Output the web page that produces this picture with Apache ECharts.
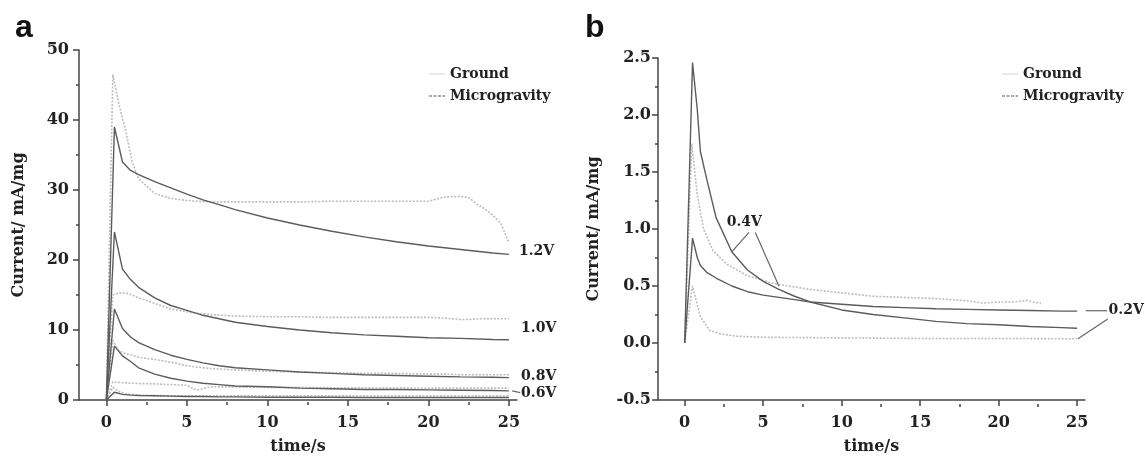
<!DOCTYPE html>
<html>
<head>
<meta charset="utf-8">
<script src="https://cdn.jsdelivr.net/npm/echarts@6/dist/echarts.min.js"></script>
<style>
  html, body { margin: 0; padding: 0; background: #fff; }
  #chart { width: 1145px; height: 460px; }
</style>
</head>
<body>
<div id="chart"></div>
<script>
// panel a: time axes (s) and currents (mA/mg)
const tMicroA = [0, 0.5, 1, 1.5, 2, 3, 4, 5, 6, 7, 8, 10, 12, 14, 16, 18, 20, 22, 24, 25];
const micro12 = [0, 39, 34, 32.8, 32.2, 31.2, 30.3, 29.4, 28.6, 27.9, 27.2, 26.0, 25.0, 24.1, 23.3, 22.6, 22.0, 21.5, 21.0, 20.8];
const micro10 = [0, 24, 18.7, 17.2, 16.1, 14.6, 13.5, 12.8, 12.1, 11.6, 11.1, 10.5, 10.0, 9.6, 9.3, 9.1, 8.9, 8.8, 8.65, 8.6];
const micro08 = [0, 13.0, 10.2, 9.0, 8.2, 7.2, 6.4, 5.8, 5.3, 4.9, 4.6, 4.3, 4.0, 3.8, 3.6, 3.5, 3.4, 3.3, 3.25, 3.2];
const micro06 = [0, 7.7, 6.3, 5.5, 4.6, 3.7, 3.1, 2.7, 2.4, 2.2, 2.0, 1.9, 1.7, 1.6, 1.5, 1.5, 1.45, 1.4, 1.35, 1.3];
const micro04 = [0, 1.1, 0.8, 0.7, 0.65, 0.6, 0.55, 0.5, 0.5, 0.45, 0.45, 0.4, 0.4, 0.4, 0.35, 0.35, 0.35, 0.35, 0.35, 0.35];

const tGroundA = [0, 0.4, 0.8, 1.2, 1.6, 2, 3, 4, 5, 5.6, 6.5, 8, 10, 12, 14, 16, 18, 20, 21, 22, 22.5, 23, 23.5, 24, 24.5, 25];
const ground12 = [0, 46.5, 42, 38.5, 34, 31.6, 29.5, 28.8, 28.5, 28.4, 28.3, 28.3, 28.3, 28.3, 28.4, 28.4, 28.4, 28.4, 29.0, 29.1, 28.9, 28.0, 27.3, 26.4, 25.2, 22.5];
const ground10 = [0, 15, 15.3, 15.3, 15.0, 14.6, 13.8, 13.0, 12.6, 12.4, 12.2, 12.0, 11.9, 11.9, 11.8, 11.8, 11.8, 11.8, 11.7, 11.5, 11.5, 11.6, 11.6, 11.6, 11.6, 11.6];
const ground08 = [0, 8.5, 7.0, 6.6, 6.4, 6.1, 5.8, 5.4, 4.9, 4.7, 4.5, 4.3, 4.1, 4.0, 3.9, 3.8, 3.8, 3.7, 3.7, 3.6, 3.6, 3.6, 3.6, 3.6, 3.6, 3.6];
const ground06 = [0, 2.6, 2.5, 2.45, 2.4, 2.35, 2.3, 2.2, 2.1, 1.4, 1.9, 1.85, 1.8, 1.8, 1.75, 1.75, 1.75, 1.7, 1.7, 1.7, 1.7, 1.7, 1.7, 1.7, 1.7, 1.7];
const ground04 = [0, 1.8, 1.2, 0.9, 0.8, 0.7, 0.65, 0.6, 0.6, 0.6, 0.6, 0.6, 0.6, 0.6, 0.6, 0.6, 0.6, 0.6, 0.6, 0.6, 0.6, 0.6, 0.6, 0.6, 0.6, 0.6];

// panel b
const tMicroB = [0, 0.5, 0.8, 1, 1.4, 2, 3, 4, 5, 6, 7, 8, 10, 12, 14, 16, 18, 20, 22, 24, 25];
const microB04 = [0, 2.46, 2.05, 1.68, 1.44, 1.1, 0.8, 0.64, 0.54, 0.47, 0.41, 0.36, 0.29, 0.25, 0.22, 0.19, 0.17, 0.16, 0.145, 0.135, 0.13];
const microB02 = [0, 0.92, 0.75, 0.68, 0.62, 0.57, 0.5, 0.45, 0.42, 0.4, 0.38, 0.36, 0.34, 0.32, 0.31, 0.3, 0.295, 0.29, 0.285, 0.28, 0.28];
const tGroundB04 = [0, 0.45, 0.8, 1.2, 1.8, 2.7, 4, 5.7, 8, 10, 12, 14, 16, 18, 19, 20, 21, 21.8, 22.2, 22.7];
const groundB04 = [0, 1.75, 1.3, 1.0, 0.81, 0.69, 0.59, 0.52, 0.47, 0.44, 0.41, 0.4, 0.39, 0.37, 0.35, 0.36, 0.36, 0.375, 0.36, 0.35];
const tGroundB02 = [0, 0.5, 1, 1.6, 2.3, 3.3, 5, 10, 15, 20, 25];
const groundB02 = [0, 0.5, 0.23, 0.11, 0.08, 0.06, 0.05, 0.045, 0.04, 0.04, 0.037];

const majorX = [0, 5, 10, 15, 20, 25];
const minorX = [2.5, 7.5, 12.5, 17.5, 22.5];

// curve labels, in data coordinates: [text, x, y]
const labelsA = [['1.2V', 25.62, 21.3], ['1.0V', 25.75, 10.2], ['0.8V', 25.75, 3.4], ['0.6V', 25.75, 1.0]];
const leadersA = [[25.2, 1.3, 25.7, 1.05]];
const labelsB = [['0.4V', 3.8, 1.06, 'center'], ['0.2V', 27.0, 0.285, 'left']];
const leadersB = [[4.1, 0.97, 3.0, 0.80], [4.5, 0.97, 6.0, 0.50], [25.55, 0.283, 26.9, 0.283], [25.05, 0.037, 26.95, 0.21]];

const FONT = 'DejaVu Serif';
const DARK = '#5c5c5c';
const LIGHT = '#bdbdbd';

function pairs(t, v) {
  return t.map((x, i) => [x, v[i]]);
}

function curve(name, t, v, xi, yi) {
  const micro = name === 'Microgravity';
  return {
    name: name,
    type: 'line',
    xAxisIndex: xi,
    yAxisIndex: yi,
    data: pairs(t, v),
    symbol: 'none',
    z: micro ? 3 : 2,
    lineStyle: micro ? { color: DARK, width: 1.4 } : { color: LIGHT, width: 1.6, type: [2, 1.5] },
    itemStyle: { color: micro ? DARK : LIGHT },
    emphasis: { disabled: true }
  };
}

const axisLineStyle = { color: '#444', width: 1.5 };
const labelText = { fontFamily: FONT, fontWeight: 'bold', fontSize: 16, color: '#222' };

function mainX(grid) {
  return {
    type: 'value', gridIndex: grid, min: -1.7, max: 25.5, position: 'bottom',
    axisLine: { onZero: false, lineStyle: axisLineStyle },
    axisTick: { customValues: majorX, length: 6, lineStyle: axisLineStyle },
    axisLabel: Object.assign({ customValues: majorX, margin: 15 }, labelText),
    splitLine: { show: false },
    name: 'time/s', nameLocation: 'middle', nameGap: 39,
    nameTextStyle: labelText
  };
}

function minorXAxis(grid, h) {
  return {
    type: 'value', gridIndex: grid, min: -1.7, max: 25.5, position: 'top', offset: -h,
    axisLine: { show: false },
    axisTick: { customValues: minorX, length: 3, inside: true, lineStyle: axisLineStyle },
    axisLabel: { show: false },
    splitLine: { show: false }
  };
}

function yAx(grid, min, max, step, margin, gap) {
  return {
    type: 'value', gridIndex: grid, min: min, max: max, interval: step,
    axisLine: { show: true, onZero: false, lineStyle: axisLineStyle },
    axisTick: { show: true, length: 6, lineStyle: axisLineStyle },
    minorTick: { show: true, splitNumber: 2, length: 3, lineStyle: axisLineStyle },
    axisLabel: Object.assign({ margin: margin, formatter: v => grid === 1 ? v.toFixed(1) : String(v) }, labelText),
    splitLine: { show: false },
    name: 'Current/ mA/mg', nameLocation: 'middle', nameGap: gap,
    nameTextStyle: labelText
  };
}

function legendAt(left) {
  return {
    left: left, top: 62, orient: 'vertical', itemWidth: 16, itemHeight: 14, itemGap: 8,
    textStyle: { fontFamily: FONT, fontWeight: 'bold', fontSize: 14, color: '#222' },
    selectedMode: false,
    data: [
      { name: 'Ground', icon: 'path://M0,0H16V1H0Z', itemStyle: { color: '#d2d2d2' } },
      { name: 'Microgravity', icon: 'path://M0,0H3V1H0Z M4.5,0H7.5V1H4.5Z M9,0H12V1H9Z M13.5,0H16V1H13.5Z', itemStyle: { color: '#555' } }
    ]
  };
}

const chart = echarts.init(document.getElementById('chart'));

chart.setOption({
  animation: false,
  backgroundColor: '#fff',
  title: [
    { text: 'a', left: 10, top: 7, textStyle: { fontFamily: 'Liberation Sans', fontWeight: 'bold', fontSize: 32, color: '#111' } },
    { text: 'b', left: 580, top: 7, textStyle: { fontFamily: 'Liberation Sans', fontWeight: 'bold', fontSize: 32, color: '#111' } }
  ],
  legend: [legendAt(424), legendAt(997)],
  grid: [
    { left: 79, top: 50, width: 438, height: 352 },
    { left: 658, top: 58, width: 427, height: 346 }
  ],
  xAxis: [mainX(0), minorXAxis(0, 352), mainX(1), minorXAxis(1, 346)],
  yAxis: [yAx(0, 0, 50, 10, 10, 52), yAx(1, -0.5, 2.5, 0.5, 7, 56)],
  series: [
    curve('Ground', tGroundA, ground12, 0, 0),
    curve('Ground', tGroundA, ground10, 0, 0),
    curve('Ground', tGroundA, ground08, 0, 0),
    curve('Ground', tGroundA, ground06, 0, 0),
    curve('Ground', tGroundA, ground04, 0, 0),
    curve('Microgravity', tMicroA, micro12, 0, 0),
    curve('Microgravity', tMicroA, micro10, 0, 0),
    curve('Microgravity', tMicroA, micro08, 0, 0),
    curve('Microgravity', tMicroA, micro06, 0, 0),
    curve('Microgravity', tMicroA, micro04, 0, 0),
    curve('Ground', tGroundB04, groundB04, 2, 1),
    curve('Ground', tGroundB02, groundB02, 2, 1),
    curve('Microgravity', tMicroB, microB04, 2, 1),
    curve('Microgravity', tMicroB, microB02, 2, 1)
  ]
});

// annotations placed through the axes' own scales
function px(xi, yi, p) {
  return chart.convertToPixel({ xAxisIndex: xi, yAxisIndex: yi }, p);
}
const graphics = [];
function addLabels(list, xi, yi) {
  list.forEach(l => {
    const p = px(xi, yi, [l[1], l[2]]);
    graphics.push({
      type: 'text', x: p[0], y: p[1], z: 10,
      style: { text: l[0], fontFamily: FONT, fontWeight: 'bold', fontSize: 14, fill: '#222',
               textAlign: l[3] || 'left', textVerticalAlign: 'middle' }
    });
  });
}
function addLeaders(list, xi, yi) {
  list.forEach(l => {
    const a = px(xi, yi, [l[0], l[1]]);
    const b = px(xi, yi, [l[2], l[3]]);
    graphics.push({
      type: 'line', z: 10,
      shape: { x1: a[0], y1: a[1], x2: b[0], y2: b[1] },
      style: { stroke: '#666', lineWidth: 1.2 }
    });
  });
}
addLabels(labelsA, 0, 0);
addLeaders(leadersA, 0, 0);
addLabels(labelsB, 2, 1);
addLeaders(leadersB, 2, 1);
chart.setOption({ graphic: graphics });
</script>
</body>
</html>
